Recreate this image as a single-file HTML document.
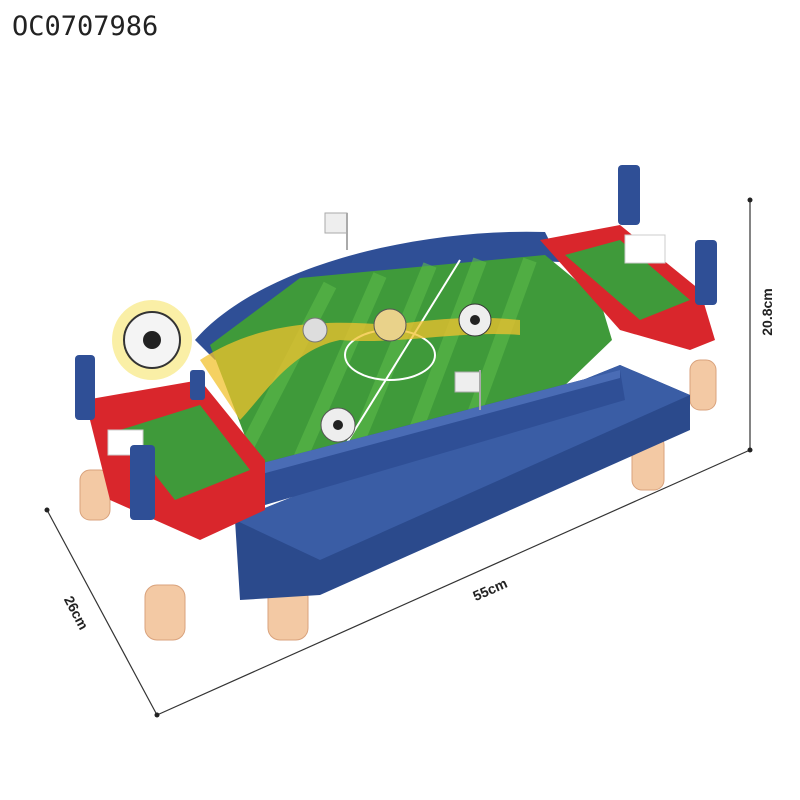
<!DOCTYPE html>
<html><head><style>
body{margin:0;width:800px;height:800px;background:#fff;overflow:hidden;position:relative;font-family:"Liberation Sans",sans-serif}
.t{position:absolute;left:12px;top:11px;font-family:"DejaVu Sans Mono",monospace;font-size:27px;color:#222}
</style></head><body>
<div class="t">OC0707986</div>
<svg width="800" height="800" style="position:absolute;left:0;top:0">
<g stroke="#333" stroke-width="1.2" fill="none">
<line x1="750" y1="200" x2="750" y2="450"/>
<line x1="47" y1="510" x2="157" y2="715"/>
<line x1="157" y1="715" x2="750" y2="450"/>
</g>
<circle cx="750" cy="200" r="2.5" fill="#222"/><circle cx="750" cy="450" r="2.5" fill="#222"/>
<circle cx="47" cy="510" r="2.5" fill="#222"/><circle cx="157" cy="715" r="2.5" fill="#222"/>
<text transform="translate(772,312) rotate(-90)" font-size="14" font-weight="bold" text-anchor="middle" fill="#222">20.8cm</text>
<text transform="translate(72,615) rotate(62)" font-size="14" font-weight="bold" text-anchor="middle" fill="#222">26cm</text>
<text transform="translate(492,594) rotate(-24)" font-size="14" font-weight="bold" text-anchor="middle" fill="#222">55cm</text>
<g fill="#f3c9a4" stroke="#d9a27c">
<rect x="268" y="585" width="40" height="55" rx="12"/>
<rect x="145" y="585" width="40" height="55" rx="12"/>
<rect x="80" y="470" width="30" height="50" rx="10"/>
<rect x="632" y="435" width="32" height="55" rx="10"/>
<rect x="690" y="360" width="26" height="50" rx="10"/>
</g>
<polygon points="235,520 620,365 690,395 690,430 320,595 240,600" fill="#2b4a8c"/>
<polygon points="235,520 620,365 690,395 320,560" fill="#3a5da5"/>
<path d="M195,340 C260,265 420,228 545,232 L560,262 C430,255 290,290 215,360 Z" fill="#2f4f96"/>
<polygon points="210,345 300,278 545,255 600,300 612,340 560,390 470,425 330,480 258,470" fill="#3f9a3a"/>
<g stroke="#5cbb4a" stroke-width="14" opacity=".6">
<line x1="240" y1="460" x2="330" y2="285"/><line x1="295" y1="470" x2="380" y2="275"/><line x1="350" y1="460" x2="430" y2="265"/><line x1="410" y1="445" x2="480" y2="260"/><line x1="470" y1="425" x2="530" y2="260"/>
</g>
<g stroke="#fff" stroke-width="2" fill="none">
<ellipse cx="390" cy="355" rx="45" ry="25"/>
<line x1="330" y1="470" x2="460" y2="260"/>
</g>
<path d="M200,360 C260,320 330,320 390,325 C430,320 470,315 520,320 L520,335 C460,330 400,345 340,340 C290,350 260,400 240,420 Z" fill="#f2c12e" opacity=".75"/>
<polygon points="255,465 620,370 625,400 265,505" fill="#2f4f96"/>
<polygon points="255,465 620,370 620,378 258,475" fill="#4a6cb5"/>
<polygon points="85,400 200,380 265,460 265,510 200,540 110,500 95,440" fill="#d9262c"/>
<polygon points="120,430 200,405 250,470 175,500" fill="#3f9a3a"/>
<rect x="108" y="430" width="35" height="25" fill="#fff" stroke="#ccc"/>
<polygon points="540,240 620,225 700,290 715,340 690,350 620,330" fill="#d9262c"/>
<polygon points="565,255 620,240 690,300 640,320" fill="#3f9a3a"/>
<rect x="625" y="235" width="40" height="28" fill="#fff" stroke="#ccc"/>
<g fill="#2f4f96">
<rect x="75" y="355" width="20" height="65" rx="4"/>
<rect x="130" y="445" width="25" height="75" rx="4"/>
<rect x="618" y="165" width="22" height="60" rx="4"/>
<rect x="695" y="240" width="22" height="65" rx="4"/>
<rect x="190" y="370" width="15" height="30" rx="3"/>
</g>
<rect x="325" y="213" width="22" height="20" fill="#eee" stroke="#aaa"/><line x1="347" y1="213" x2="347" y2="250" stroke="#aaa" stroke-width="2"/>
<rect x="455" y="372" width="25" height="20" fill="#eee" stroke="#aaa"/><line x1="480" y1="370" x2="480" y2="410" stroke="#aaa" stroke-width="2"/>
<circle cx="152" cy="340" r="40" fill="#f6e46a" opacity=".6"/>
<circle cx="152" cy="340" r="28" fill="#f4f4f4" stroke="#333" stroke-width="2"/>
<circle cx="152" cy="340" r="9" fill="#222"/>
<circle cx="475" cy="320" r="16" fill="#eee" stroke="#333"/><circle cx="475" cy="320" r="5" fill="#222"/>
<circle cx="390" cy="325" r="16" fill="#e9d28a" stroke="#555"/>
<circle cx="338" cy="425" r="17" fill="#eee" stroke="#555"/><circle cx="338" cy="425" r="5" fill="#222"/>
<circle cx="315" cy="330" r="12" fill="#ddd" stroke="#777"/>
</svg>
</body></html>
